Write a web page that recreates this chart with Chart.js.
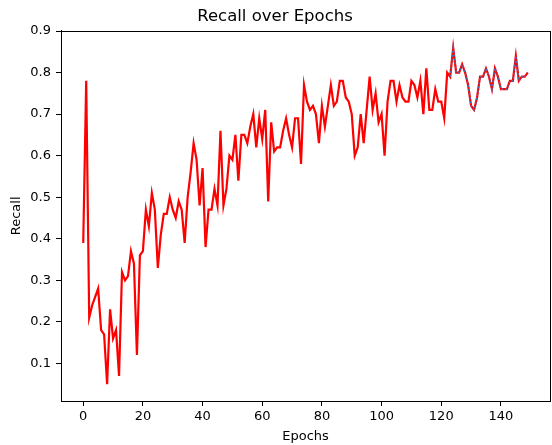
<!DOCTYPE html>
<html>
<head>
<meta charset="utf-8">
<script src="https://cdn.jsdelivr.net/npm/chart.js@4"></script>
<style>body{margin:0;background:#fff}</style>
</head>
<body>
<canvas id="c" width="552" height="445"></canvas>
<script>
// recall per epoch
const recall = [
	0.39, 0.78, 0.21, 0.24, 0.26, 0.28, 0.18, 0.17, 0.05, 0.23,
	0.16, 0.18, 0.07, 0.32, 0.30, 0.31, 0.37, 0.34, 0.12, 0.36,
	0.37, 0.47, 0.43, 0.51, 0.47, 0.33, 0.41, 0.46, 0.46, 0.50,
	0.47, 0.45, 0.49, 0.47, 0.39, 0.50, 0.56, 0.63, 0.59, 0.48,
	0.57, 0.38, 0.47, 0.47, 0.52, 0.48, 0.66, 0.48, 0.52, 0.60,
	0.59, 0.65, 0.54, 0.65, 0.65, 0.63, 0.67, 0.70, 0.62, 0.69,
	0.64, 0.71, 0.49, 0.68, 0.61, 0.62, 0.62, 0.66, 0.69, 0.65,
	0.62, 0.69, 0.69, 0.58, 0.77, 0.73, 0.71, 0.72, 0.70, 0.63,
	0.72, 0.67, 0.72, 0.77, 0.72, 0.73, 0.78, 0.78, 0.74, 0.73,
	0.70, 0.60, 0.62, 0.70, 0.63, 0.71, 0.79, 0.71, 0.75, 0.68,
	0.70, 0.60, 0.73, 0.78, 0.78, 0.73, 0.77, 0.74, 0.73, 0.73,
	0.78, 0.77, 0.74, 0.78, 0.70, 0.81, 0.71, 0.71, 0.76, 0.73,
	0.73, 0.69, 0.80, 0.79, 0.86, 0.80, 0.80, 0.82, 0.80, 0.77,
	0.72, 0.71, 0.74, 0.79, 0.79, 0.81, 0.79, 0.76, 0.81, 0.79,
	0.76, 0.76, 0.76, 0.78, 0.78, 0.84, 0.78, 0.79, 0.79, 0.80,
]
const epochs = recall.map((a,b) => b)
const blueFrom = 123

const xTicks = [0, 20, 40, 60, 80, 100, 120, 140]
const yTicks = [0.1, 0.2, 0.3, 0.4, 0.5, 0.6, 0.7, 0.8, 0.9]
const xRange = [-7.45, 156.45]
const yRange = [0.0095, 0.9005]

Chart.defaults.font.family = 'DejaVu Sans'
Chart.defaults.color = '#000'

// matplotlib style box round the plot
const frame = {
	id: 'frame',
	afterDraw: c => {
		const {ctx, chartArea: a} = c
		ctx.save()
		ctx.strokeStyle = '#000'
		ctx.lineWidth = 1
		ctx.strokeRect(Math.round(a.left) + 0.5, Math.round(a.top) + 0.5, Math.round(a.right - a.left), Math.round(a.bottom - a.top))
		ctx.restore()
	}
}

const axis = {
	grid: { drawOnChartArea: false, drawTicks: true, tickLength: 5, color: '#000' },
	border: { display: true, color: '#000', width: 1 },
}

new Chart(document.getElementById('c'), {
	type: 'line',
	data: {
		datasets: [{
			data: epochs.filter(a => a >= blueFrom).map(a => ({x: a, y: recall[a]})),
			borderColor: '#4a6db0',
			borderWidth: 1.5,
			borderDash: [2, 2],
			pointRadius: 0,
			tension: 0,
			order: 1,
		}, {
			data: epochs.map(a => ({x: a, y: recall[a]})),
			borderColor: '#ff0000',
			borderWidth: 2.2,
			pointRadius: 0,
			tension: 0,
			order: 2,
		}]
	},
	options: {
		responsive: false,
		animation: false,
		layout: { padding: { left: 0, right: 2, top: 0, bottom: 0 } },
		plugins: {
			legend: { display: false },
			tooltip: { enabled: false },
			title: {
				display: true,
				text: 'Recall over Epochs',
				font: { size: 16.5, weight: 'normal' },
				padding: { top: 7, bottom: 4 },
			},
		},
		scales: {
			x: {
				...axis,
				type: 'linear',
				min: xRange[0],
				max: xRange[1],
				afterBuildTicks: s => { s.ticks = xTicks.map(v => ({value: v})) },
				afterFit: s => { s.height = 44 },
				ticks: { font: { size: 13 }, padding: 3, maxRotation: 0, autoSkip: false },
				title: { display: true, text: 'Epochs', font: { size: 13 }, padding: { top: 0, bottom: 1 } },
			},
			y: {
				...axis,
				min: yRange[0],
				max: yRange[1],
				afterBuildTicks: s => { s.ticks = yTicks.map(v => ({value: v})) },
				afterFit: s => { s.width = 61 },
				ticks: { font: { size: 13 }, padding: 5, autoSkip: false, callback: v => v.toFixed(1) },
				title: { display: true, text: 'Recall', font: { size: 13 }, padding: { top: 9, bottom: 0 } },
			},
		},
	},
	plugins: [frame],
})
</script>
</body>
</html>
